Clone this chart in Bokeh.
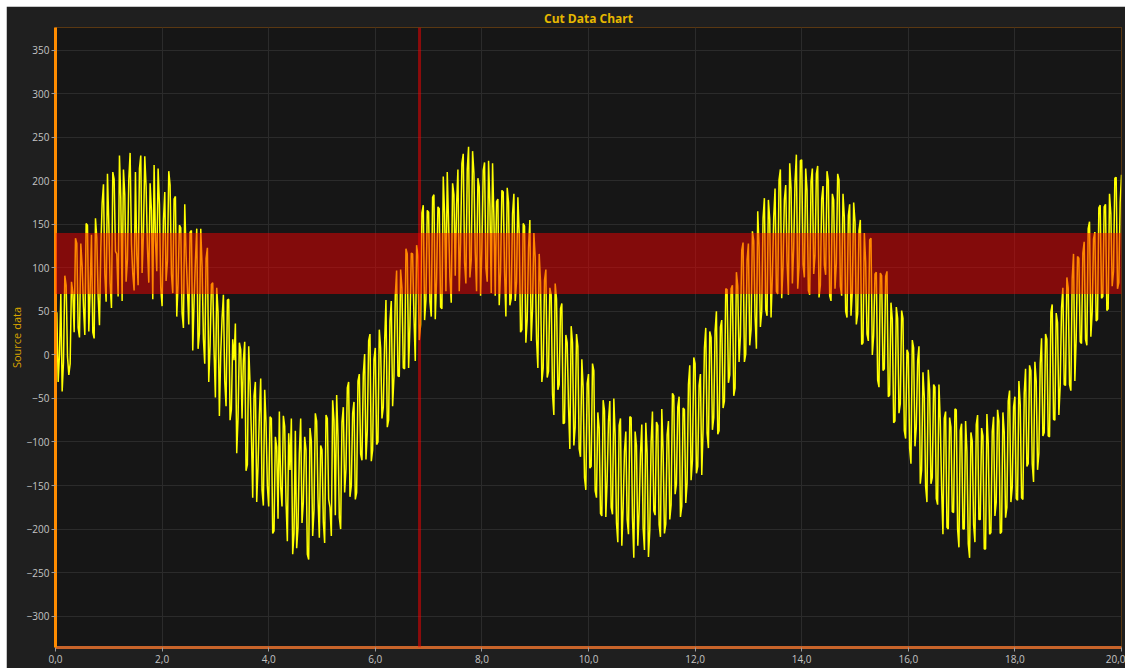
from bokeh.plotting import figure
from bokeh.models import Range1d, FixedTicker, BoxAnnotation, Span, ColumnDataSource, Spacer, Title
from bokeh.layouts import column, row
from bokeh.embed import file_html
from bokeh.resources import INLINE
import numpy as np

# ---- data ----
x_start, x_end = 0.0, 20.0
# samples at x = 0.00, 0.05, ..., 20.00
samples_on_grid = [
    20, -31, 70, -8, 80, -23, 84, 26, 128, 20, 102, 23, 149, 75, 26, 157, 67, 122, 196, 61,
    151, 54, 202, 116, 229, 62, 184, 110, 232, 93, 210, 80, 229, 139, 193, 83, 166, 218, 96, 173,
    56, 187, 108, 195, 71, 182, 82, 146, 31, 115, 35, 143, 62, 145, 24, 102, -10, 123, 10, 83,
    -49, 49, 1, 69, -59, 64, -63, -6, -113, 14, -73, 15, -126, -33, -164, -31, -127, -27, -173, -78,
    -174, -73, -202, -106, -65, -174, -82, -214, -132, -229, -87, -198, -73, -169, -109, -235, -99, -178, -76, -210,
    -109, -216, -73, -175, -52, -184, -94, -200, -60, -131, -31, -150, -54, -158, -22, -121, 1, -87, 24, -109,
    8, -100, 8, -60, 63, -75, 62, -25, 97, -25, 77, -16, 116, 34, 116, -7, 114, 35, 172, 63,
    164, 44, 184, 88, 168, 53, 162, 210, 89, 197, 91, 213, 129, 231, 82, 239, 109, 209, 73, 193,
    123, 221, 84, 172, 220, 68, 179, 96, 187, 44, 175, 65, 185, 84, 139, 29, 148, 41, 155, 53,
    112, -15, 83, -15, 98, -19, 69, -69, 64, -34, 59, -78, 14, -108, 14, -83, 10, -117, -38, -155,
    -22, -128, -18, -164, -84, -185, -64, -144, -53, -183, -92, -215, -73, -175, -88, -206, -72, -233, -104, -179,
    -80, -224, -113, -201, -65, -184, -81, -209, -111, -194, -76, -172, -47, -148, -48, -174, -63, -147, -12, -121,
    -10, -128, -22, -85, 31, -107, 20, -72, 50, -87, 40, -53, 75, -23, 80, -38, 79, 21, 129, 1,
    128, 29, 131, 7, 124, 50, 180, 45, 156, 91, 191, 70, 213, 102, 195, 69, 191, 123, 230, 102,
    224, 89, 189, 69, 214, 114, 217, 80, 194, 92, 200, 62, 178, 105, 201, 68, 158, 43, 173, 73,
    153, 47, 155, 14, 107, 16, 134, 22, 95, -37, 91, -16, 96, -46, 41, -76, 42, -56, 42, -96,
    2, -125, 8, -83, 10, -132, -48, -169, -40, -141, -37, -172, -76, -206, -65, -200, -83, -181, -63, -221,
    -79, -200, -111, -233, -99, -215, -69, -189, -93, -223, -102, -204, -71, -169, -76, -203, -89, -175, -41, -152,
    -48, -167, -57, -166, -16, -125, -18, -146, -30, -113, 19, -89, 18, -94, 58, -75, 37, -35, 77, -35,
    77, -41, 116, 19, 111, 13, 130, 11, 153, 49, 141, 41, 172, 67, 173, 53, 162, 96, 204, 83,
    207,
]
# samples half-way between, at x = 0.025, 0.075, ..., 19.975
samples_between = [
    49, 1, -42, 91, -2, -10, 72, 134, 31, 128, 55, 151, 27, 138, 19, 134, 34, 174, 93, 208,
    82, 210, 119, 67, 180, 213, 84, 201, 127, 74, 115, 214, 94, 228, 123, 197, 64, 132, 214, 77,
    154, 85, 211, 93, 179, 44, 149, 48, 173, 77, 141, 5, 108, 7, 145, 18, 111, -31, 81, 4,
    77, -70, 42, -30, 63, -75, 18, 36, -72, 6, -6, -133, 10, -91, -47, -169, -69, -155, -40, -151,
    -71, -205, -94, -188, -152, -70, -168, -90, -73, -205, -222, -113, -193, -94, -229, -84, -208, -67, -165, -104,
    -192, -69, -166, -208, -75, -46, -187, -77, -158, -38, -163, -67, -166, -30, -114, -22, -120, 16, -122, -5,
    -103, 29, -73, 14, -83, 39, -59, 68, -24, 98, -15, 122, -15, 117, 44, 126, 17, 163, 40, 166,
    61, 181, 41, 170, 55, 205, 73, 152, 60, 184, 172, 73, 220, 106, 213, 89, 234, 118, 203, 68,
    212, 100, 223, 71, 159, 176, 57, 189, 95, 192, 57, 162, 62, 181, 26, 151, 14, 123, 16, 140,
    18, 116, -31, 86, -26, 77, -45, 82, -40, 53, -79, 23, -59, 33, -104, 24, -108, -5, -141, -33,
    -130, -10, -156, -66, -182, -52, -186, -76, -175, -50, -193, -81, -219, -111, -189, -71, -187, -88, -219, -114,
    -199, -78, -232, -100, -179, -77, -195, -62, -205, -92, -189, -44, -160, -60, -186, -61, -170, -34, -144, -3,
    -136, -35, -138, 8, -90, 27, -86, 27, -91, 32, -61, 76, -32, 76, -47, 95, -8, 120, -8, 109,
    11, 142, 44, 165, 32, 157, 52, 178, 43, 158, 73, 201, 65, 178, 107, 220, 82, 199, 76, 223,
    104, 214, 74, 199, 93, 208, 66, 179, 103, 211, 68, 185, 76, 208, 79, 185, 50, 160, 45, 175,
    35, 143, 12, 140, 24, 132, 0, 93, -29, 94, -18, 90, -48, 60, -78, 55, -67, 51, -87, 6,
    -107, 17, -105, -7, -148, -20, -151, -17, -148, -34, -165, -34, -154, -73, -198, -72, -180, -62, -200, -87,
    -200, -76, -217, -89, -195, -80, -189, -84, -223, -68, -206, -88, -185, -63, -205, -66, -187, -53, -169, -60,
    -165, -30, -164, -44, -128, -12, -125, -8, -132, -10, -93, 24, -93, 49, -74, 48, -69, 54, -34, 89,
    -34, 88, -30, 113, 15, 117, 18, 145, 21, 133, 39, 169, 65, 170, 51, 185, 79, 203, 76, 175,
]
band_low, band_high = 70, 140
cursor_x = 6.83
y_ticks = list(range(-300, 351, 50))
x_ticks = list(range(0, 21, 2))
x_tick_labels = {t: f"{t},0" for t in x_ticks}

n = len(samples_on_grid) + len(samples_between)
y_values = np.empty(n)
y_values[0::2] = samples_on_grid
y_values[1::2] = samples_between
x_values = np.linspace(x_start, x_end, n)
src = ColumnDataSource(dict(x=x_values, y=y_values))

FONT = "Open Sans"

p = figure(width=1119, height=662, output_backend="svg", toolbar_location=None,
           x_range=Range1d(0, 20), y_range=Range1d(-336, 376),
           title="Cut Data Chart",
           background_fill_color="#161616", border_fill_color="#1f1f1f",
           min_border_left=48, min_border_right=4, min_border_top=21, min_border_bottom=21)

p.outline_line_color = "#5a3812"
p.outline_line_width = 1

p.title.align = "center"
p.title.vertical_align = "middle"
p.title.text_color = "#e6b800"
p.title.text_font = FONT
p.title.text_font_size = "12px"
p.title.text_font_style = "bold"
p.title.offset = 0
p.title.standoff = 0

p.line("x", "y", source=src, line_color="#ffff00", line_width=1.5)

band = BoxAnnotation(bottom=band_low, top=band_high, fill_color="#ff0000", fill_alpha=0.47, line_alpha=0)
p.add_layout(band)
cursor = Span(location=cursor_x, dimension="height", line_color="#ff0000", line_alpha=0.5, line_width=3)
p.add_layout(cursor)

p.xgrid.ticker = FixedTicker(ticks=x_ticks)
p.ygrid.ticker = FixedTicker(ticks=y_ticks)
p.grid.grid_line_color = "#2b2b2b"
p.grid.grid_line_width = 1

xa = p.xaxis[0]
xa.ticker = FixedTicker(ticks=x_ticks)
xa.major_label_overrides = x_tick_labels
xa.axis_line_color = "#c8642a"
xa.axis_line_width = 3
ya = p.yaxis[0]
ya.ticker = FixedTicker(ticks=y_ticks)
ya.axis_line_color = "#ff8c00"
ya.axis_line_width = 3

for ax in (xa, ya):
    ax.major_tick_line_color = "#9a9a9a"
    ax.major_tick_out = 4
    ax.major_tick_in = 0
    ax.minor_tick_line_color = None
    ax.major_label_text_color = "#c4c4c4"
    ax.major_label_text_font = FONT
    ax.major_label_text_font_size = "10px"
ya.major_label_standoff = 2
xa.major_label_standoff = 3

y_title = Title(text="Source data", align="center", text_color="#d9a400", text_font=FONT,
                text_font_size="11px", text_font_style="normal", standoff=0, offset=0)
p.add_layout(y_title, "left")

page = column(Spacer(width=1125, height=6),
              row(Spacer(width=6, height=662), p))
open("out.html", "w").write(file_html(page, INLINE))
